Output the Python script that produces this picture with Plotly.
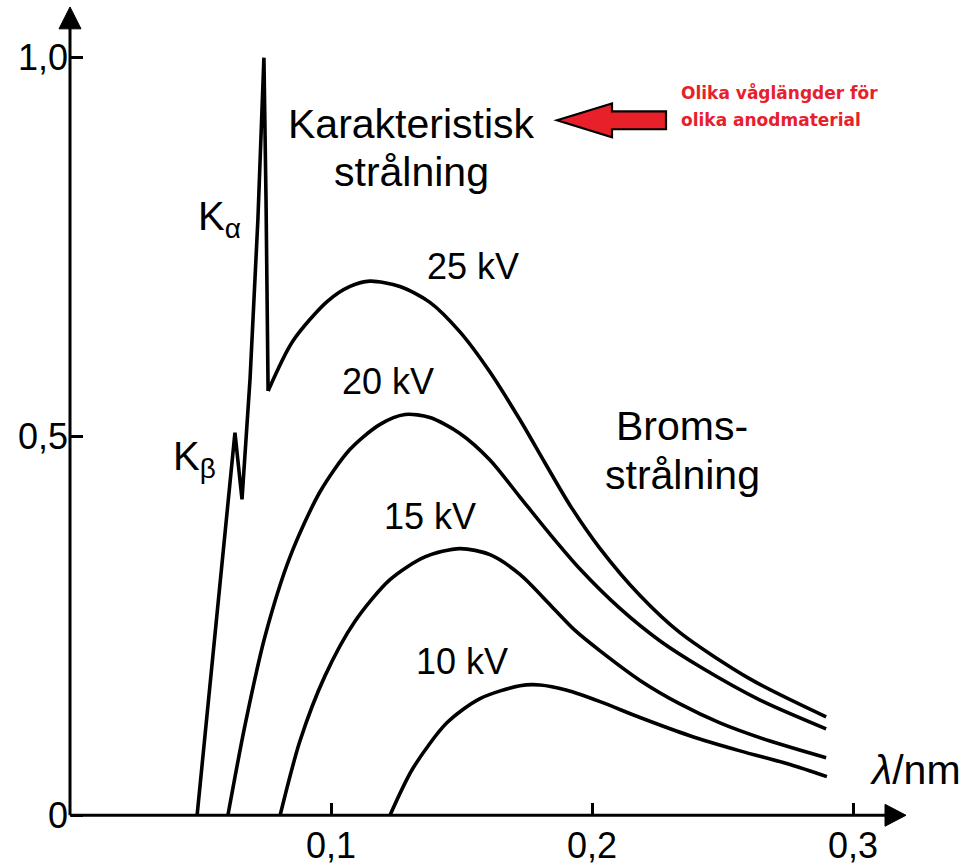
import plotly.graph_objects as go

# ---------------- data (wavelength in nm, relative intensity) ----------------
kv25_x = [0.0487, 0.0632, 0.0659, 0.0690, 0.0720, 0.0743, 0.0751, 0.0759,
          0.0854, 0.0985, 0.1073, 0.1149, 0.1264, 0.1379, 0.1494, 0.1609,
          0.1724, 0.1820, 0.1916, 0.2031, 0.2184, 0.2337, 0.2605, 0.2897]
kv25_y = [0.0, 0.505, 0.417, 0.577, 0.787, 1.0, 0.814, 0.560,
          0.626, 0.678, 0.698, 0.705, 0.698, 0.677, 0.638, 0.585,
          0.522, 0.465, 0.409, 0.352, 0.290, 0.241, 0.180, 0.130]
KCHAR_END = 7  # index where the characteristic lines end and the continuum starts

kv20_x = [0.0605, 0.0670, 0.0747, 0.0843, 0.0958, 0.1073, 0.1188, 0.1284,
          0.1379, 0.1494, 0.1609, 0.1724, 0.1839, 0.1954, 0.2107, 0.2261,
          0.2414, 0.2644, 0.2897]
kv20_y = [0.0, 0.118, 0.236, 0.341, 0.427, 0.483, 0.516, 0.529,
          0.525, 0.504, 0.469, 0.420, 0.371, 0.325, 0.273, 0.230,
          0.196, 0.152, 0.114]

kv15_x = [0.0805, 0.0881, 0.0977, 0.1092, 0.1226, 0.1360, 0.1494, 0.1609,
          0.1724, 0.1839, 0.1935, 0.2031, 0.2184, 0.2337, 0.2490, 0.2682, 0.2897]
kv15_y = [0.0, 0.098, 0.184, 0.256, 0.311, 0.341, 0.352, 0.344,
          0.318, 0.278, 0.244, 0.217, 0.178, 0.147, 0.122, 0.098, 0.076]

kv10_x = [0.1226, 0.1314, 0.1444, 0.1571, 0.1724, 0.1801, 0.1904, 0.2031,
          0.2184, 0.2375, 0.2567, 0.2759, 0.2900]
kv10_y = [0.0, 0.062, 0.122, 0.154, 0.171, 0.172, 0.165, 0.150,
          0.129, 0.105, 0.085, 0.067, 0.051]

x_tickvals = [0.1, 0.2, 0.3]
x_ticktext = ["0,1", "0,2", "0,3"]
y_tickvals = [0.0, 0.5, 1.0]
y_ticktext = ["0", "0,5", "1,0"]

# ---------------- geometry helpers (figure pixel -> data) ----------------
W, H = 967, 866
X0PX, XSCALE = 70, 2610.0   # pixel of x=0, pixels per nm
Y0PX, YSCALE = 820, 762.0   # pixel of y=0, pixels per unit


def px2x(p):
    return (p - X0PX) / XSCALE


def py2y(p):
    return (Y0PX - p) / YSCALE


FONT = "Liberation Sans, Arial, Helvetica, sans-serif"
LW = 3.6

fig = go.Figure()
fig.add_trace(go.Scatter(x=kv25_x[:KCHAR_END + 1], y=kv25_y[:KCHAR_END + 1],
                         mode="lines", line=dict(color="black", width=LW, shape="linear"),
                         hoverinfo="skip"))
fig.add_trace(go.Scatter(x=kv25_x[KCHAR_END:], y=kv25_y[KCHAR_END:],
                         mode="lines", line=dict(color="black", width=LW, shape="spline", smoothing=0.8)))
for xs, ys in [(kv20_x, kv20_y), (kv15_x, kv15_y), (kv10_x, kv10_y)]:
    fig.add_trace(go.Scatter(x=xs, y=ys, mode="lines",
                             line=dict(color="black", width=LW, shape="spline", smoothing=0.8)))

shapes = []
# axis lines
shapes.append(dict(type="line", xref="x", yref="y", x0=0, y0=0, x1=px2x(890), y1=0,
                   line=dict(color="black", width=3)))
shapes.append(dict(type="line", xref="x", yref="y", x0=0, y0=0, x1=0, y1=py2y(24),
                   line=dict(color="black", width=3)))


def poly(points):
    return "M " + " L ".join(f"{px2x(a)},{py2y(b)}" for a, b in points) + " Z"


# arrow heads of the axes
shapes.append(dict(type="path", xref="x", yref="y",
                   path=poly([(906, 820), (885, 809), (885, 831)]),
                   fillcolor="black", line=dict(color="black", width=1)))
shapes.append(dict(type="path", xref="x", yref="y",
                   path=poly([(70, 7), (59, 29), (81, 29)]),
                   fillcolor="black", line=dict(color="black", width=1)))
# red block arrow
shapes.append(dict(type="path", xref="x", yref="y",
                   path=poly([(557, 121), (612, 104), (612, 112), (666, 112),
                              (666, 130), (612, 130), (612, 138)]),
                   fillcolor="#e8202a", line=dict(color="black", width=2.2)))

ann = []


def label(text, px, py, size, **kw):
    d = dict(text=text, x=px2x(px), y=py2y(py), xref="x", yref="y", showarrow=False,
             font=dict(family=FONT, size=size, color="black"),
             xanchor="center", yanchor="middle")
    d.update(kw)
    ann.append(d)


label("Karakteristisk", 411, 125, 41)
label("strålning", 411, 173, 41)
label("25 kV", 473, 268, 36)
label("20 kV", 388, 384, 36)
label("15 kV", 430, 519, 36)
label("10 kV", 462, 665, 36)
label("Broms-", 682, 428, 41)
label("strålning", 682, 478, 41)
label("K<sub>α</sub>", 219, 220, 40)
label("K<sub>β</sub>", 194, 462, 40)
label("<i>λ</i>/nm", 915, 774, 41)

red_font = dict(family="DejaVu Sans, Verdana, sans-serif", size=17, color="#e8202a")
ann.append(dict(text="<b>Olika våglängder för</b>", x=px2x(679), y=py2y(93), xref="x", yref="y",
                showarrow=False, xanchor="left", yanchor="middle", font=red_font))
ann.append(dict(text="<b>olika anodmaterial</b>", x=px2x(679), y=py2y(121), xref="x", yref="y",
                showarrow=False, xanchor="left", yanchor="middle", font=red_font))

fig.update_layout(
    width=W, height=H, margin=dict(l=0, r=0, t=0, b=0),
    paper_bgcolor="white", plot_bgcolor="white", showlegend=False,
    shapes=shapes, annotations=ann,
    xaxis=dict(range=[px2x(0), px2x(W)], anchor="free", position=(H - Y0PX) / H,
               showgrid=False, zeroline=False, showline=False,
               ticks="inside", ticklen=12, tickwidth=2.5, tickcolor="black",
               tickvals=x_tickvals, ticktext=x_ticktext,
               tickfont=dict(family=FONT, size=36, color="black"), ticklabelstandoff=6),
    yaxis=dict(range=[py2y(H), py2y(0)], anchor="free", position=X0PX / W,
               showgrid=False, zeroline=False, showline=False,
               ticks="inside", ticklen=12, tickwidth=2.5, tickcolor="black",
               tickvals=y_tickvals, ticktext=y_ticktext,
               tickfont=dict(family=FONT, size=36, color="black"), ticklabelstandoff=2),
)

fig.write_html("out.html")
